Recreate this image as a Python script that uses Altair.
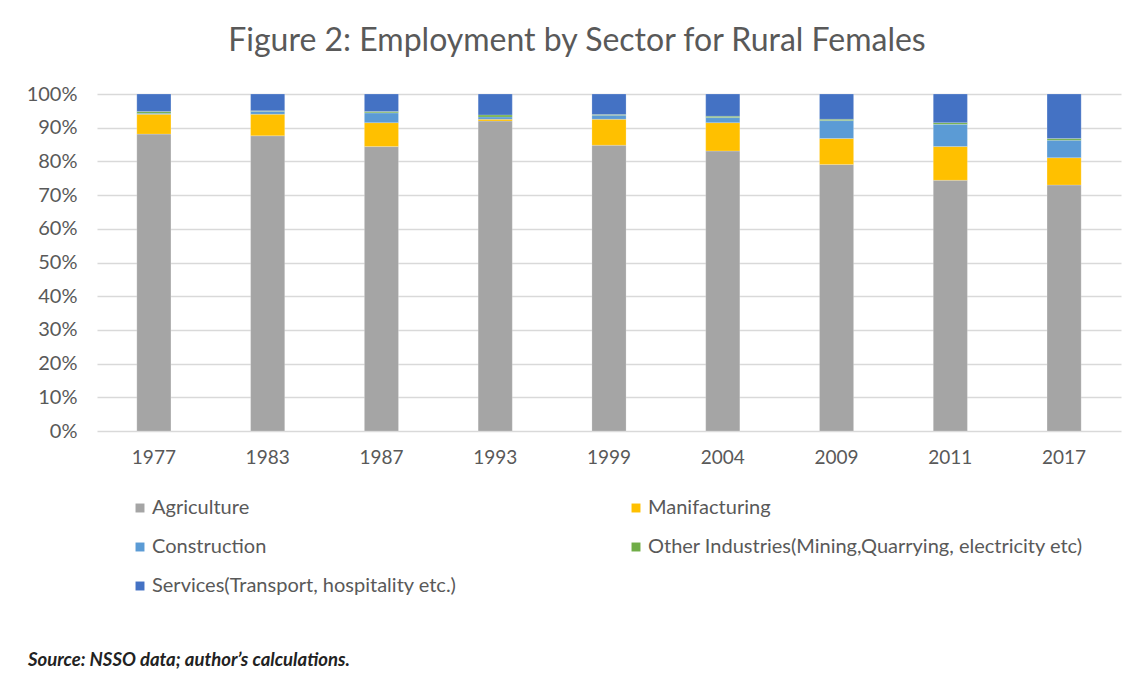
import altair as alt
import pandas as pd

years = ["1977", "1983", "1987", "1993", "1999", "2004", "2009", "2011", "2017"]
sectors = [
    "Agriculture",
    "Manifacturing",
    "Construction",
    "Other Industries(Mining,Quarrying, electricity etc)",
    "Services(Transport, hospitality etc.)",
]
agriculture = [88.1, 87.6, 84.4, 92.0, 84.8, 83.1, 79.1, 74.4, 73.0]
manufacturing = [5.9, 6.4, 7.1, 0.5, 7.7, 8.4, 7.7, 10.0, 8.1]
construction = [0.3, 0.9, 2.9, 0.7, 1.2, 1.5, 5.3, 6.6, 5.2]
other_ind = [0.5, 0.1, 0.4, 0.6, 0.2, 0.4, 0.4, 0.5, 0.5]
services = [5.2, 5.0, 5.2, 6.2, 6.1, 6.6, 7.5, 8.5, 13.2]
colors = ["#A5A5A5", "#FFC000", "#5B9BD5", "#70AD47", "#4472C4"]

# legend fills column-first: order so it reads row-wise like the reference
legend_order = [0, 2, 4, 1, 3]

title_text = "Figure 2: Employment by Sector for Rural Females"
source_text = "Source: NSSO data; author\u2019s calculations."

series = [agriculture, manufacturing, construction, other_ind, services]
rows = []
for si, (name, vals) in enumerate(zip(sectors, series)):
    for y, v in zip(years, vals):
        rows.append({"year": y, "sector": name, "value": v, "idx": si})
df = pd.DataFrame(rows)

leg_domain = [sectors[i] for i in legend_order]
leg_range = [colors[i] for i in legend_order]

FONT = "Lato"
GREY = "#595959"

bars = alt.Chart(df).mark_bar(stroke="white", strokeWidth=0.4, strokeOpacity=0.5).encode(
    x=alt.X("year:N", sort=years, title=None,
            scale=alt.Scale(paddingInner=0.7, paddingOuter=0.35),
            axis=alt.Axis(labelAngle=0, labelFontSize=19, labelColor=GREY, labelFont=FONT,
                          domain=False, ticks=False, labelPadding=17, grid=False)),
    y=alt.Y("value:Q", stack="zero", title=None,
            scale=alt.Scale(domain=[0, 100], nice=False),
            axis=alt.Axis(values=list(range(0, 101, 10)), labelExpr="datum.value + '%'",
                          labelFontSize=20, labelColor=GREY, labelFont=FONT,
                          domain=False, ticks=False, labelPadding=20,
                          gridColor="#D9D9D9", gridWidth=1.3)),
    color=alt.Color("sector:N",
                    scale=alt.Scale(domain=leg_domain, range=leg_range),
                    legend=alt.Legend(title=None, orient="none", legendX=33, legendY=404,
                                      columns=2, columnPadding=169, rowPadding=19,
                                      symbolType="square", symbolSize=80, symbolStrokeWidth=0,
                                      labelFontSize=20, labelColor=GREY, labelFont=FONT,
                                      labelOffset=2, labelLimit=700, padding=0)),
    order=alt.Order("idx:Q", sort="ascending"),
)

src = alt.Chart(pd.DataFrame({"t": [source_text]})).mark_text(
    align="left", baseline="middle", fontSize=18.5, fontStyle="italic", font=FONT,
    fontWeight="bold", color="#222222"
).encode(x=alt.value(-69), y=alt.value(566), text="t:N")

chart = alt.layer(bars, src).properties(
    width=1024, height=337,
    autosize=alt.AutoSizeParams(type="none"),
    padding={"left": 89, "top": 86, "right": 9, "bottom": 252},
    title=alt.TitleParams(title_text, fontSize=32, font=FONT, color=GREY, fontWeight="normal",
                          anchor="middle", offset=26, dx=-32),
).configure_view(stroke=None)

chart.save("out.html", embed_options={"renderer": "svg", "actions": False})
